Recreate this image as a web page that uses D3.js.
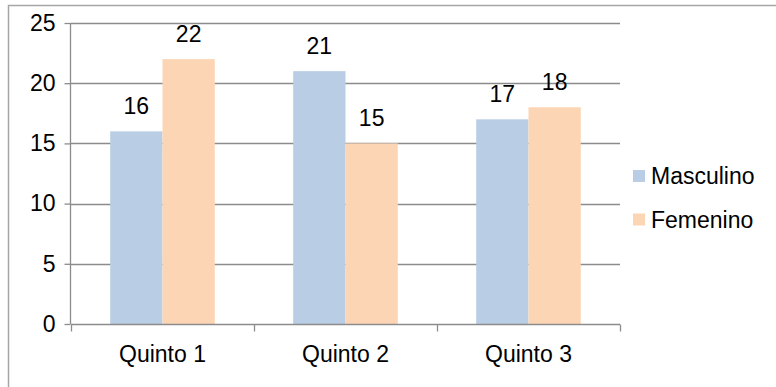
<!DOCTYPE html>
<html>
<head>
<meta charset="utf-8">
<script src="https://cdn.jsdelivr.net/npm/d3@7"></script>
<style>
  html, body { margin: 0; padding: 0; background: #fff; }
  svg { display: block; }
  text { font-family: Arial, "Liberation Sans", sans-serif; fill: #000; }
</style>
</head>
<body>
<svg id="chart" width="776" height="387"></svg>
<script>
// Students per group, by sex
const categories = ["Quinto 1", "Quinto 2", "Quinto 3"];
const seriesNames = ["Masculino", "Femenino"];
const masculino = [16, 21, 17];
const femenino = [22, 15, 18];
const yTicks = [0, 5, 10, 15, 20, 25];

const colors = ["#B9CDE5", "#FCD5B5"];
const W = 776, H = 387;
const plot = { left: 71, right: 620, top: 23, bottom: 324 };
const fontSize = 23;

const svg = d3.select("#chart");

// Chart frame (runs off the right and bottom edges)
svg.append("rect")
  .attr("x", 8.5).attr("y", 5.5)
  .attr("width", W).attr("height", H)
  .attr("fill", "none").attr("stroke", "#A6A6A6").attr("stroke-width", 1.5);

const x0 = d3.scaleBand().domain(categories).range([plot.left, plot.right]).paddingInner(0).paddingOuter(0);
const x1 = d3.scaleBand().domain(seriesNames).range([0, x0.bandwidth()]).paddingInner(0).paddingOuter(0.75);
const y = d3.scaleLinear().domain([0, 25]).range([plot.bottom, plot.top]);

// Horizontal gridlines
svg.append("g")
  .selectAll("line")
  .data(yTicks.filter(d => d > 0))
  .join("line")
  .attr("x1", plot.left).attr("x2", plot.right)
  .attr("y1", d => Math.round(y(d)) + 0.5).attr("y2", d => Math.round(y(d)) + 0.5)
  .attr("stroke", "#8C8C8C").attr("stroke-width", 1.3);

// Bars
const rows = categories.map((c, i) => ({ cat: c, vals: [masculino[i], femenino[i]] }));
const groups = svg.append("g").selectAll("g")
  .data(rows).join("g")
  .attr("transform", d => `translate(${x0(d.cat)},0)`);

groups.selectAll("rect")
  .data(d => d.vals.map((v, j) => ({ name: seriesNames[j], v, j })))
  .join("rect")
  .attr("x", d => x1(d.name))
  .attr("width", x1.bandwidth())
  .attr("y", d => y(d.v))
  .attr("height", d => y(0) - y(d.v))
  .attr("fill", d => colors[d.j]);

// Value labels
groups.selectAll("text")
  .data(d => d.vals.map((v, j) => ({ name: seriesNames[j], v, j })))
  .join("text")
  .attr("x", d => x1(d.name) + x1.bandwidth() / 2)
  .attr("y", d => y(d.v) - 17)
  .attr("text-anchor", "middle")
  .style("font-size", fontSize + "px")
  .text(d => d.v);

// Y axis
const yAxis = d3.axisLeft(y).tickValues(yTicks).tickSize(6).tickPadding(9);
const gy = svg.append("g")
  .attr("transform", `translate(${plot.left - 0.5},0)`)
  .call(yAxis);
gy.select(".domain").attr("stroke", "#8C8C8C").attr("stroke-width", 1.3)
  .attr("d", `M0,${plot.top}V${plot.bottom}`);
gy.selectAll(".tick line").attr("stroke", "#8C8C8C").attr("stroke-width", 1.3);
gy.selectAll(".tick text")
  .style("font-size", fontSize + "px")
  .style("font-family", "Arial, 'Liberation Sans', sans-serif")
  .attr("fill", "#000");

// X axis
const xAxis = d3.axisBottom(x0).tickSize(0).tickPadding(21);
const gx = svg.append("g")
  .attr("transform", `translate(0,${plot.bottom + 0.5})`)
  .call(xAxis);
gx.select(".domain").attr("stroke", "#8C8C8C").attr("stroke-width", 1.3)
  .attr("d", `M${plot.left},0H${plot.right}`);
gx.selectAll(".tick text")
  .style("font-size", fontSize + "px")
  .style("font-family", "Arial, 'Liberation Sans', sans-serif")
  .attr("fill", "#000");
// Category boundary tick marks
gx.append("g").selectAll("line")
  .data(categories.map(c => x0(c)).concat([plot.right]))
  .join("line")
  .attr("x1", d => Math.round(d) + 0.5).attr("x2", d => Math.round(d) + 0.5)
  .attr("y1", 0).attr("y2", 7)
  .attr("stroke", "#8C8C8C").attr("stroke-width", 1.3);

// Legend
const legend = svg.append("g").attr("transform", "translate(633,170)");
seriesNames.forEach((name, i) => {
  const g = legend.append("g").attr("transform", `translate(0,${i * 43.5})`);
  g.append("rect").attr("width", 12).attr("height", 12).attr("fill", colors[i]);
  g.append("text").attr("x", 18).attr("y", 6).attr("dy", "0.35em")
    .style("font-size", fontSize + "px").text(name);
});
</script>
</body>
</html>
